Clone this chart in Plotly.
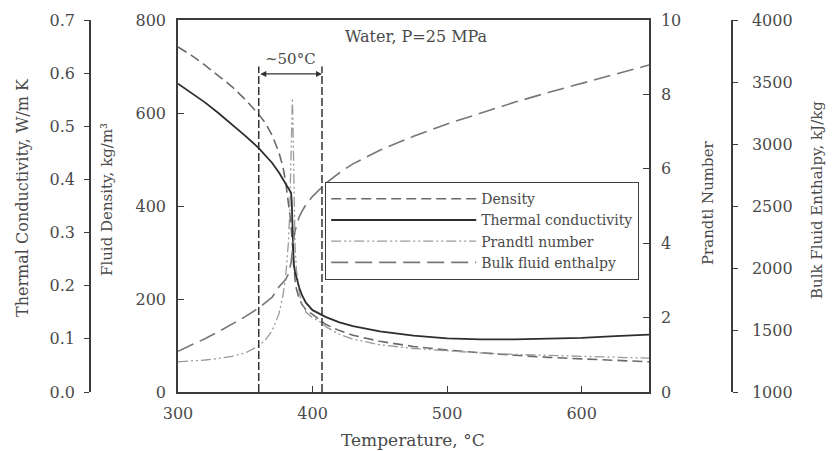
import plotly.graph_objects as go

# ---------------- data ----------------
temperature = [300, 310, 320, 330, 340, 350, 360, 365, 370, 375, 378, 380, 382, 383, 384,
               384.5, 385, 385.5, 386, 387, 388, 390, 392, 395, 400, 405, 410, 420, 430,
               450, 475, 500, 525, 550, 575, 600, 625, 650]
density = [742, 724, 703, 681, 657, 629, 597, 578, 552, 515, 484, 452, 412, 392, 362,
           340, 316, 290, 268, 240, 222, 201, 189, 177, 167, 155, 145, 132, 122,
           109, 98, 90, 84, 79, 74.5, 71, 67.5, 65]
conductivity = [0.580, 0.563, 0.545, 0.525, 0.504, 0.482, 0.459, 0.446, 0.431, 0.413, 0.400,
                0.390, 0.382, 0.378, 0.375, 0.360, 0.300, 0.262, 0.240, 0.226, 0.215, 0.197,
                0.183, 0.168, 0.154, 0.147, 0.141, 0.131, 0.124, 0.114, 0.106, 0.101, 0.099,
                0.099, 0.100, 0.102, 0.105, 0.108]
prandtl = [0.81, 0.83, 0.86, 0.90, 0.96, 1.05, 1.24, 1.40, 1.65, 2.1, 2.6, 3.1, 4.0, 4.8, 6.3,
           7.4, 7.9, 7.1, 5.5, 3.9, 3.3, 2.7, 2.4, 2.15, 2.0, 1.9, 1.75, 1.55, 1.42,
           1.27, 1.17, 1.10, 1.05, 1.01, 0.98, 0.95, 0.93, 0.91]
enthalpy = [1328, 1377, 1430, 1485, 1545, 1608, 1678, 1718, 1765, 1848, 1880, 1907, 1950, 1985,
            2040, 2090, 2150, 2200, 2240, 2300, 2345, 2410, 2455, 2510, 2578, 2635, 2685, 2768,
            2840, 2950, 3062, 3162, 3252, 3336, 3415, 3491, 3565, 3637]

series_names = ["Density", "Thermal conductivity", "Prandtl number", "Bulk fluid enthalpy"]
band_edges = [360, 407]
band_label = "~50°C"
x_ticks = [300, 400, 500, 600]

# ---------------- layout constants ----------------
OFF = 8                      # page body margin of the browser
W, H = 834 - OFF, 451 - OFF
L_PIX, R_PIX, T_PIX, B_PIX = 178 - OFF, 649 - OFF, 20 - OFF, 392 - OFF
PH = B_PIX - T_PIX
AX = "#3c3c3c"
TXT = "#4a4a4a"
FONT = "DejaVu Serif"


def px(pix):
    return (pix - OFF) / W


def py(pix):
    return (B_PIX - (pix - OFF)) / PH


fig = go.Figure()
fig.add_trace(go.Scatter(x=temperature, y=density, name=series_names[0], mode="lines",
                         line=dict(color="#6a6a6a", width=1.6, dash="10px,5px"), yaxis="y"))
fig.add_trace(go.Scatter(x=temperature, y=conductivity, name=series_names[1], mode="lines",
                         line=dict(color="#2e2e2e", width=1.8), yaxis="y3"))
fig.add_trace(go.Scatter(x=temperature, y=prandtl, name=series_names[2], mode="lines",
                         line=dict(color="#9a9a9a", width=1.3, dash="10px,3px,2px,3px,2px,3px"),
                         yaxis="y2"))
fig.add_trace(go.Scatter(x=temperature, y=enthalpy, name=series_names[3], mode="lines",
                         line=dict(color="#777777", width=1.6, dash="17px,7px"), yaxis="y4"))

common = dict(showgrid=False, zeroline=False, showline=True, linecolor=AX, linewidth=1.5,
              tickcolor=AX, tickwidth=1.3, automargin=False,
              tickfont=dict(family=FONT, size=16, color=TXT))

fig.update_layout(
    width=W, height=H,
    margin=dict(l=0, r=0, t=T_PIX, b=H - B_PIX, pad=0, autoexpand=False),
    paper_bgcolor="white", plot_bgcolor="white",
    font=dict(family=FONT, size=16, color=TXT),
    xaxis=dict(domain=[L_PIX / W, R_PIX / W], range=[300, 650], tickvals=x_ticks,
               ticks="inside", ticklen=6, mirror=True, ticklabelstandoff=6, **common),
    yaxis=dict(range=[0, 800], dtick=200, ticks="inside", ticklen=6, mirror=True,
               ticklabelstandoff=7, **common),
    yaxis2=dict(overlaying="y", side="right", anchor="x", range=[0, 10], dtick=2,
                ticks="inside", ticklen=6, ticklabelstandoff=7, **common),
    yaxis3=dict(overlaying="y", side="left", anchor="free", position=px(90),
                range=[0, 0.7], dtick=0.1, tickformat=".1f", ticks="outside", ticklen=5,
                ticklabelstandoff=6, **common),
    yaxis4=dict(overlaying="y", side="right", anchor="free", position=px(732),
                range=[1000, 4000], dtick=500, ticks="outside", ticklen=5,
                ticklabelstandoff=11, **common),
    legend=dict(x=px(325), y=py(182), xanchor="left", yanchor="top", bgcolor="white",
                bordercolor=AX, borderwidth=1.2, font=dict(family=FONT, size=14, color=TXT),
                itemwidth=145, tracegroupgap=0),
    showlegend=True,
)

# vertical dashed band lines and the double arrow
for xe in band_edges:
    fig.add_shape(type="line", xref="x", yref="y", x0=xe, x1=xe, y0=0, y1=700,
                  line=dict(color="#333333", width=1.5, dash="8px,3px"))
fig.add_annotation(x=band_edges[1], y=684, ax=band_edges[0], ay=684, xref="x", yref="y",
                   axref="x", ayref="y", text="", showarrow=True, arrowhead=2,
                   arrowside="end+start", arrowsize=1, arrowwidth=1.2, arrowcolor="#333333")
fig.add_annotation(x=sum(band_edges) / 2, y=716, xref="x", yref="y", text=band_label,
                   showarrow=False, xanchor="center", yanchor="middle",
                   font=dict(family=FONT, size=15, color=TXT))
fig.add_annotation(x=px(416), y=py(37), xref="paper", yref="paper", text="Water, P=25 MPa",
                   showarrow=False, xanchor="center", yanchor="middle",
                   font=dict(family=FONT, size=16, color=TXT))

# axis titles
titles = [
    ("Thermal Conductivity, W/m K", 22, 198, 16),
    ("Fluid Density, kg/m³", 107, 200, 15),
    ("Prandtl Number", 708, 203, 15),
    ("Bulk Fluid Enthalpy, kJ/kg", 817, 200, 15),
]
for text, xp, yp, sz in titles:
    fig.add_annotation(x=px(xp), y=py(yp), xref="paper", yref="paper", text=text,
                       textangle=-90, showarrow=False, xanchor="center", yanchor="middle",
                       font=dict(family=FONT, size=sz, color=TXT))
fig.add_annotation(x=px(413), y=py(440), xref="paper", yref="paper", text="Temperature, °C",
                   showarrow=False, xanchor="center", yanchor="middle",
                   font=dict(family=FONT, size=17, color=TXT))

fig.write_html("out.html")
